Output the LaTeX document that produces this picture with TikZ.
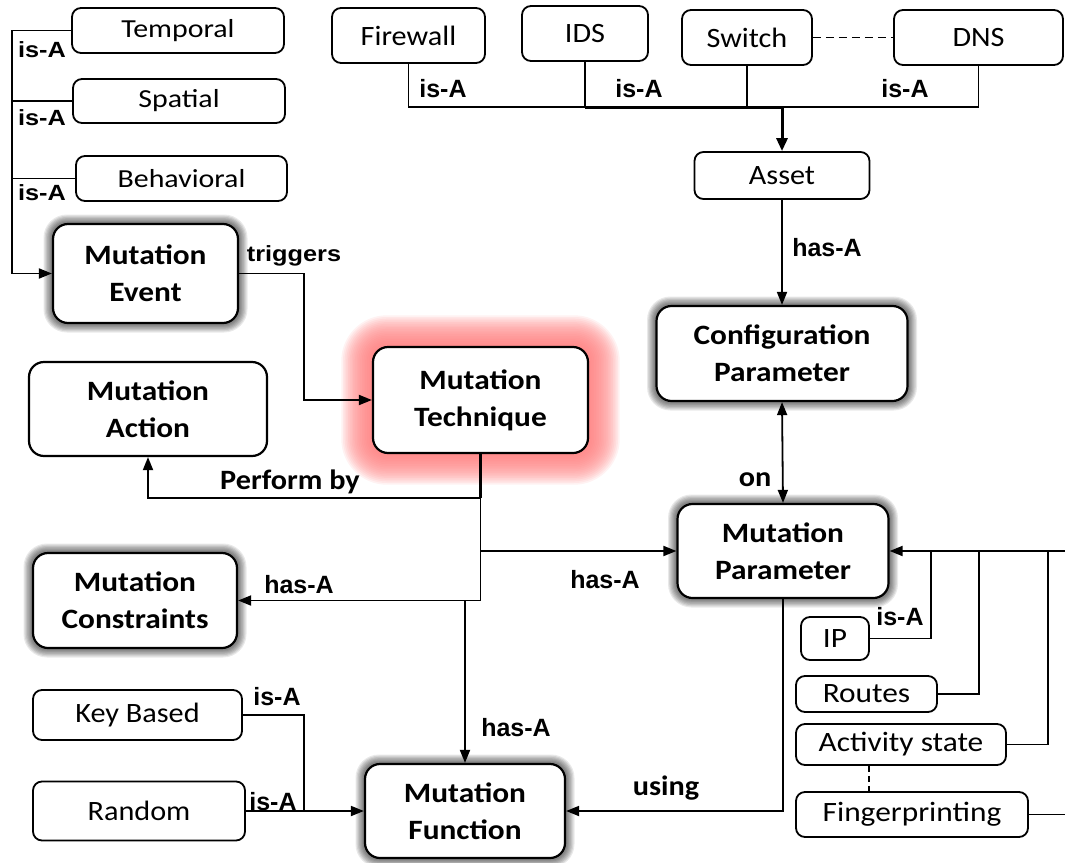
\documentclass[tikz,border=0pt]{standalone}
\usepackage{fontspec}
\setmainfont{Carlito}
\newfontfamily\plainface{Carlito}[FakeStretch=1.08]
\newfontfamily\wideface{Carlito}[FakeStretch=1.15]
\newfontfamily\headface{Carlito}[FakeStretch=1.12]
\newfontfamily\tagface{Liberation Sans}
\newfontfamily\widetagface{Liberation Sans}[FakeStretch=1.15]
\usetikzlibrary{arrows.meta,calc,backgrounds}

% soft halo behind a node: #1 node, #2 colour, #3 steps, #4 step (pt), #5 opacity, #6 base corner radius
\newcommand\halo[6]{%
  \foreach \k in {1,...,#3}{%
    \pgfmathsetmacro\rr{\k*#4}%
    \pgfmathsetmacro\rc{\k*#4+#6}%
    \fill[#2, opacity=#5, rounded corners=\rc pt]
      ($(#1.south west)+(-\rr pt,-\rr pt)$) rectangle ($(#1.north east)+(\rr pt,\rr pt)$);
  }}

\tikzset{
  sz/.style 2 args={minimum width=#1pt, minimum height=#2pt},
  box/.style={draw, line width=1.8pt, rounded corners=9pt, fill=white, inner sep=0pt, align=center},
  topbox/.style={box, font=\plainface\fontsize{28}{34}\selectfont},
  leftbox/.style={box, font=\wideface\fontsize{26}{30}\selectfont},
  rightbox/.style={box, font=\headface\fontsize{28}{34}\selectfont},
  bigbox/.style={box, line width=2.2pt, rounded corners=15pt,
    font=\headface\bfseries\fontsize{28}{37}\selectfont},
  conn/.style={line width=1.8pt},
  heavy/.style={line width=3pt},
  arr/.style={conn, -{Triangle[length=13pt,width=10pt]}},
  tag/.style={inner sep=0pt, font=\tagface\bfseries\fontsize{25}{30}\selectfont},
  tagwide/.style={inner sep=0pt, font=\widetagface\bfseries\fontsize{22}{26}\selectfont},
  tagword/.style={inner sep=0pt, font=\plainface\bfseries\fontsize{28}{34}\selectfont},
}

\begin{document}
\begin{tikzpicture}[x=1pt, y=-1pt]
\useasboundingbox (0,0) rectangle (1065,862);

% ---- event kinds ----
\node[leftbox, sz={212}{45}] (temporal)   at (178,30.5)  {Temporal};
\node[leftbox, sz={212}{44}] (spatial)    at (179,101)   {Spatial};
\node[leftbox, sz={211}{45}] (behavioral) at (181.5,178.5) {Behavioral};
\node[bigbox,  sz={185}{99}] (mevent)     at (145.5,273.5) {Mutation\\Event};

% ---- central concepts ----
\node[bigbox, sz={215}{106}] (mtech)   at (480.5,400) {Mutation\\Technique};
\node[bigbox, sz={238}{94}]  (maction) at (148,409)   {Mutation\\Action};
\node[bigbox, sz={204}{95}]  (mconstr) at (135,600.5) {Mutation\\Constraints};
\node[bigbox, sz={200}{94}]  (mfunc)   at (465,811)   {Mutation\\Function};
\node[topbox, sz={209}{50}]  (keybased) at (137.5,715) {Key Based};
\node[topbox, sz={212}{59}]  (random)   at (139,811)   {Random};

% ---- assets ----
\node[topbox, sz={153}{55}] (firewall) at (408.5,35.5) {Firewall};
\node[topbox, sz={126}{55}] (ids)      at (585,33.5)   {IDS};
\node[topbox, sz={130}{55}] (switch)   at (747,37.5)   {Switch};
\node[topbox, sz={169}{55}] (dns)      at (978.5,37.5) {DNS};
\node[topbox, sz={175}{47}] (asset)    at (782,175.5)  {Asset};
\node[bigbox, sz={251}{95}] (confparam) at (782,353.5) {Configuration\\Parameter};
\node[bigbox, sz={211}{94}] (mparam)    at (783,551)   {Mutation\\Parameter};

% ---- parameter kinds ----
\node[rightbox, sz={68}{43}]  (ip)       at (835,638.5) {IP};
\node[rightbox, sz={141}{36}] (routes)   at (866.5,694) {Routes};
\node[rightbox, sz={210}{41}] (activity) at (901,744.5) {Activity state};
\node[rightbox, sz={232}{45}] (finger)   at (912,814.5) {Fingerprinting};

% ---- page and halos ----
\begin{scope}[on background layer]
  \fill[white] (0,0) rectangle (1065,862);
  \halo{mtech}{red!50}{18}{1.7}{0.1}{15}
  \foreach \n in {mevent,mconstr,mfunc,confparam,mparam}{\halo{\n}{black}{7}{1.2}{0.085}{15}}
\end{scope}

% ---- helper coordinates ----
\coordinate (busL)  at (12,0);
\coordinate (trigX) at (304,0);
\coordinate (perfY) at (0,498);
\coordinate (keyX)  at (304,0);
\coordinate (busT)  at (0,107);
\coordinate (edgeR) at (1065,0);
\coordinate (ipX)   at (931,0);
\coordinate (rtX)   at (979,0);
\coordinate (acX)   at (1048,0);
\coordinate (dashX) at (869,0);

% ---- event kinds -> Mutation Event ----
\draw[arr] (temporal.west) -| (busL |- mevent.west) -- (mevent.west);
\draw[conn] (spatial.west) -- (spatial.west -| busL);
\draw[conn] (behavioral.west) -- (behavioral.west -| busL);

% ---- triggers ----
\draw[arr] (mevent.east) -- (mevent.east -| trigX) |- (mtech.west);

% ---- Mutation Technique trunk ----
\draw[heavy] (mtech.south) -- (mtech.south |- perfY);
\draw[arr] (mtech.south |- perfY) -| (maction.south);
\draw[arr] (mtech.south) |- (mconstr.east);
\draw[arr] (mtech.south |- mparam.west) -- (mparam.west);
\draw[arr] (mfunc.north |- mconstr.east) -- (mfunc.north);

% ---- function kinds ----
\draw[conn] (keybased.east) -| (keyX |- mfunc.west);
\draw[arr] (random.east) -- (mfunc.west);

% ---- assets ----
\draw[conn] (firewall.south) |- (dns.south |- busT) -- (dns.south);
\draw[conn] (ids.south) -- (ids.south |- busT);
\draw[conn] (switch.south) -- (switch.south |- busT);
\draw[heavy] (ids.south |- busT) -- (asset.north |- busT);
\draw[heavy, -{Triangle[length=13pt,width=11pt]}] (asset.north |- busT) -- (asset.north);
\draw[conn, dashed, dash pattern=on 8pt off 5pt] (switch.east) -- (dns.west);

\draw[arr] (asset.south) -- (confparam.north);
\draw[conn, {Triangle[length=13pt,width=10pt]}-{Triangle[length=13pt,width=10pt]}] (confparam.south) -- (mparam.north);
\draw[arr] (mparam.south) |- (mfunc.east);

% ---- parameter kinds ----
\draw[arr] (mparam.east -| edgeR) -- (mparam.east);
\draw[conn] (ip.east) -| (ipX |- mparam.east);
\draw[conn] (routes.east) -| (rtX |- mparam.east);
\draw[conn] (activity.east) -| (acX |- mparam.east);
\draw[conn] (finger.east) -- (finger.east -| edgeR);
\draw[conn, dashed, dash pattern=on 6pt off 4pt] (activity.south -| dashX) -- (finger.north -| dashX);

% ---- labels ----
\node[tagwide] (l1) at (42,50)  {is-A};
\node[tagwide] (l2) at (42,118) {is-A};
\node[tagwide] (l3) at (42,193) {is-A};
\node[tagwide] (ltrig) at (294,256) {triggers};
\node[tag] (lt1) at (443,89) {is-A};
\node[tag] (lt2) at (639,89) {is-A};
\node[tag] (lt3) at (905,89) {is-A};
\node[tag] (lasset) at (827,248) {has-A};
\node[tagword] (lon) at (755,480) {on};
\node[tagword] (lperf) at (290,482) {Perform by};
\node[tag] (lcon) at (299,585) {has-A};
\node[tag] (lpar) at (605,580) {has-A};
\node[tag] (lfun) at (516,728) {has-A};
\node[tagword] (lusing) at (666,788) {using};
\node[tag] (lip) at (900,617) {is-A};
\node[tag] (lkey) at (277,697) {is-A};
\node[tag] (lrnd) at (273,802) {is-A};
\end{tikzpicture}
\end{document}
